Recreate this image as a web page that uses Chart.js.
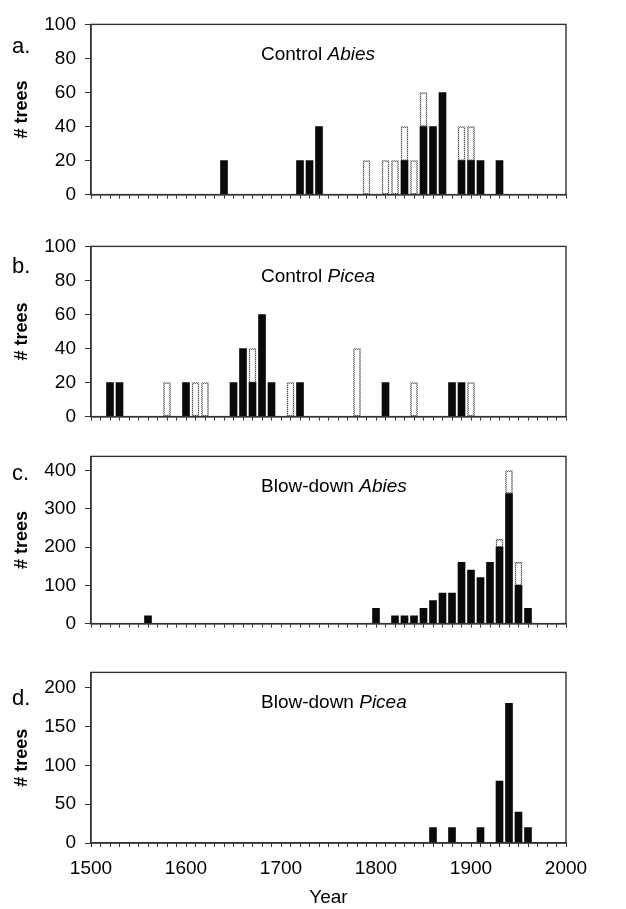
<!DOCTYPE html>
<html>
<head>
<meta charset="utf-8">
<script src="https://cdn.jsdelivr.net/npm/chart.js@4.4.0/dist/chart.umd.min.js"></script>
<style>
    body { margin: 0; background: #fff; width: 626px; height: 909px; position: relative; overflow: hidden; }
    canvas { position: absolute; left: 0; }
</style>
</head>
<body>
<canvas id="pa"></canvas>
<canvas id="pb"></canvas>
<canvas id="pc"></canvas>
<canvas id="pd"></canvas>
<script>
// a. Control Abies
const ctrlAbiesYears = [1640, 1720, 1730, 1740, 1790, 1810, 1820, 1830, 1840, 1850, 1860, 1870, 1890, 1900, 1910, 1930];
const ctrlAbiesDark  = [20, 20, 20, 40, 0, 0, 0, 20, 0, 40, 40, 60, 20, 20, 20, 20];
const ctrlAbiesOpen  = [0, 0, 0, 0, 20, 20, 20, 20, 20, 20, 0, 0, 20, 20, 0, 0];

// b. Control Picea
const ctrlPiceaYears = [1520, 1530, 1580, 1600, 1610, 1620, 1650, 1660, 1670, 1680, 1690, 1710, 1720, 1780, 1810, 1840, 1880, 1890, 1900];
const ctrlPiceaDark  = [20, 20, 0, 20, 0, 0, 20, 40, 20, 60, 20, 0, 20, 0, 20, 0, 20, 20, 0];
const ctrlPiceaOpen  = [0, 0, 20, 0, 20, 20, 0, 0, 20, 0, 0, 20, 0, 40, 0, 20, 0, 0, 20];

// c. Blow-down Abies
const blowAbiesYears = [1560, 1800, 1820, 1830, 1840, 1850, 1860, 1870, 1880, 1890, 1900, 1910, 1920, 1930, 1940, 1950, 1960];
const blowAbiesDark  = [20, 40, 20, 20, 20, 40, 60, 80, 80, 160, 140, 120, 160, 200, 340, 100, 40];
const blowAbiesOpen  = [0, 0, 0, 0, 0, 0, 0, 0, 0, 0, 0, 0, 0, 20, 60, 60, 0];

// d. Blow-down Picea
const blowPiceaYears = [1860, 1880, 1910, 1930, 1940, 1950, 1960];
const blowPiceaDark  = [20, 20, 20, 80, 180, 40, 20];
const blowPiceaOpen  = [0, 0, 0, 0, 0, 0, 0];

const yearTicks = [1500, 1600, 1700, 1800, 1900, 2000];

const FONT = '"Liberation Sans", Arial, sans-serif';
const INK = '#000';
const LINE = '#333';

// dotted grey border for the open bars
function dotPattern() {
    const c = document.createElement('canvas');
    c.width = 2; c.height = 2;
    const g = c.getContext('2d');
    g.fillStyle = '#bbb'; g.fillRect(0, 0, 2, 2);
    g.fillStyle = '#555'; g.fillRect(0, 0, 1, 1); g.fillRect(1, 1, 1, 1);
    return g.createPattern(c, 'repeat');
}
const openBorder = dotPattern();

const panels = [
    { id: 'pa', top: 16,  bottom: 195, max: 100, step: 20,  letter: 'a.', letterDy: 29, name: 'Control ',   genus: 'Abies', years: ctrlAbiesYears, dark: ctrlAbiesDark, open: ctrlAbiesOpen },
    { id: 'pb', top: 238, bottom: 417, max: 100, step: 20,  letter: 'b.', letterDy: 27, name: 'Control ',   genus: 'Picea', years: ctrlPiceaYears, dark: ctrlPiceaDark, open: ctrlPiceaOpen },
    { id: 'pc', top: 448, bottom: 624, max: 437, step: 100, letter: 'c.', letterDy: 24, name: 'Blow-down ', genus: 'Abies', years: blowAbiesYears, dark: blowAbiesDark, open: blowAbiesOpen },
    { id: 'pd', top: 664, bottom: 843, max: 220, step: 50,  letter: 'd.', letterDy: 33, name: 'Blow-down ', genus: 'Picea', years: blowPiceaYears, dark: blowPiceaDark, open: blowPiceaOpen, last: true }
];

const PAD_TOP = 12;

panels.forEach(p => {
    const xh = p.last ? 66 : 20;
    const h = PAD_TOP + (p.bottom - p.top) + xh;
    const cv = document.getElementById(p.id);
    cv.width = 626;
    cv.height = h;
    cv.style.top = (p.top - PAD_TOP) + 'px';

    const panelText = {
        id: 'panelText',
        afterDraw(chart) {
            const c = chart.ctx, a = chart.chartArea;
            c.save();
            // frame round the plot
            c.strokeStyle = LINE;
            c.lineWidth = 1.4;
            c.strokeRect(a.left, a.top, a.right - a.left, a.bottom - a.top);

            c.fillStyle = INK;
            c.textBaseline = 'alphabetic';
            c.font = '22px ' + FONT;
            c.fillText(p.letter, 12, a.top + p.letterDy);

            const ty = a.top + 36;
            c.font = '19px ' + FONT;
            const x0 = a.left + 170;
            c.fillText(p.name, x0, ty);
            const w = c.measureText(p.name).width;
            c.font = 'italic 19px ' + FONT;
            c.fillText(p.genus, x0 + w, ty);
            c.restore();
        }
    };

    new Chart(cv, {
        type: 'bar',
        data: {
            datasets: [{
                data: p.years.map((y, i) => ({ x: y, y: p.dark[i] })),
                backgroundColor: '#0a0a0a',
                borderWidth: 0,
                barThickness: 7
            }, {
                data: p.years.map((y, i) => ({ x: y, y: p.open[i] })),
                backgroundColor: '#fff',
                borderColor: openBorder,
                borderWidth: 1.5,
                borderSkipped: false,
                barThickness: 7
            }]
        },
        options: {
            responsive: false,
            animation: false,
            layout: { padding: { top: PAD_TOP, right: 60, left: 0, bottom: 0 } },
            plugins: { legend: { display: false }, tooltip: { enabled: false } },
            scales: {
                x: {
                    type: 'linear',
                    min: 1500,
                    max: 2000,
                    stacked: true,
                    offset: false,
                    grid: { display: true, drawOnChartArea: false, drawTicks: true, tickLength: 4, color: LINE, offset: false },
                    border: { display: true, color: LINE, width: 1.4 },
                    ticks: {
                        stepSize: 10,
                        autoSkip: false,
                        maxRotation: 0,
                        padding: 10,
                        color: INK,
                        font: { family: FONT, size: 19 },
                        callback: v => (p.last && yearTicks.includes(v)) ? String(v) : ''
                    },
                    title: {
                        display: !!p.last,
                        text: 'Year',
                        color: INK,
                        font: { family: FONT, size: 19 },
                        padding: { top: 0, bottom: 0 }
                    },
                    afterFit: s => { s.height = xh; }
                },
                y: {
                    min: 0,
                    max: p.max,
                    stacked: true,
                    grid: { display: true, drawOnChartArea: false, drawTicks: true, tickLength: 6, color: LINE },
                    border: { display: true, color: LINE, width: 1.4 },
                    ticks: {
                        padding: 9,
                        color: INK,
                        font: { family: FONT, size: 19 }
                    },
                    afterBuildTicks: s => {
                        const t = [];
                        for (let v = 0; v <= p.max; v += p.step) t.push({ value: v });
                        s.ticks = t;
                    },
                    title: {
                        display: true,
                        text: '# trees',
                        color: INK,
                        font: { family: FONT, size: 18, weight: 'bold' },
                        padding: { top: 11, bottom: 0 }
                    },
                    afterFit: s => { s.width = 91; }
                }
            }
        },
        plugins: [panelText]
    });
});
</script>
</body>
</html>
